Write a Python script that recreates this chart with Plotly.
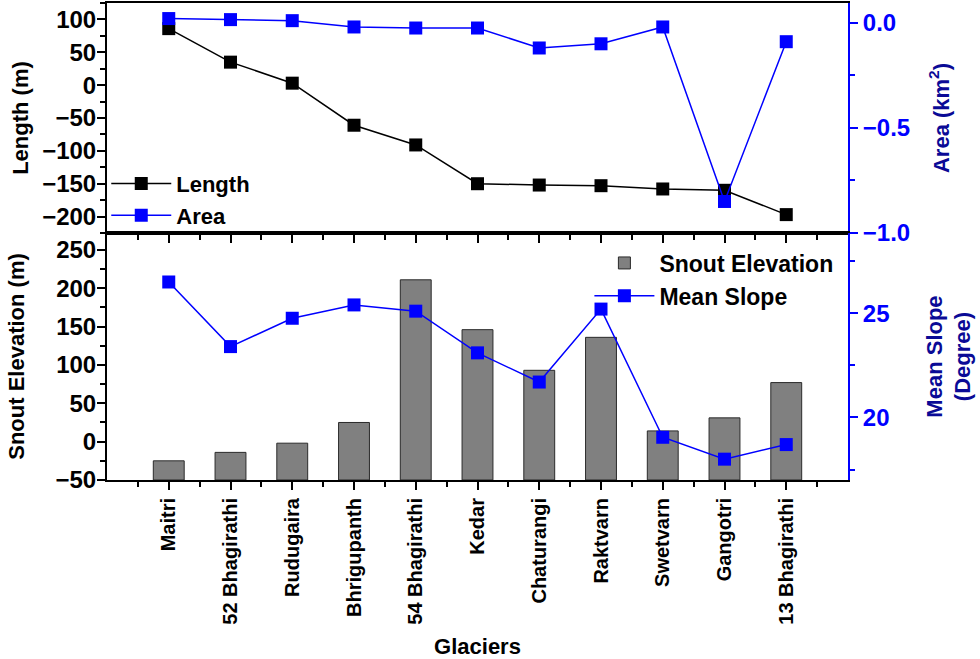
import plotly.graph_objects as go

glaciers = ["Maitri", "52 Bhagirathi", "Rudugaira", "Bhrigupanth", "54 Bhagirathi",
            "Kedar", "Chaturangi", "Raktvarn", "Swetvarn", "Gangotri", "13 Bhagirathi"]
length_m = [86, 35, 3, -61, -91, -150, -152, -153, -158, -160, -197]
area_km2 = [0.02, 0.015, 0.01, -0.02, -0.025, -0.025, -0.12, -0.10, -0.02, -0.85, -0.09]
snout_elev = [-25, -14, -2, 25, 211, 146, 93, 136, 14, 31, 77]
mean_slope = [26.5, 23.4, 24.76, 25.4, 25.1, 23.1, 21.7, 25.2, 19.05, 18.0, 18.7]

xpos = list(range(len(glaciers)))
BAR_BASE = -50

FONT = "Liberation Sans"
BLUE = "#0000FF"
NAVY = "#0a0a96"

fig = go.Figure()
fig.add_trace(go.Scatter(x=xpos, y=length_m, name="Length", mode="lines+markers",
                         line=dict(color="black", width=1.5),
                         marker=dict(symbol="square", size=13, color="black"),
                         xaxis="x", yaxis="y", legend="legend"))
fig.add_trace(go.Scatter(x=xpos, y=area_km2, name="Area", mode="lines+markers",
                         line=dict(color=BLUE, width=1.5),
                         marker=dict(symbol="square", size=13, color=BLUE),
                         xaxis="x", yaxis="y2", legend="legend"))
fig.add_trace(go.Bar(x=xpos, y=[v - BAR_BASE for v in snout_elev], base=BAR_BASE,
                     name="Snout Elevation", width=0.5,
                     marker=dict(color="#808080", line=dict(color="#2a2a2a", width=1)),
                     xaxis="x2", yaxis="y3", legend="legend2"))
fig.add_trace(go.Scatter(x=xpos, y=mean_slope, name="Mean Slope", mode="lines+markers",
                         line=dict(color=BLUE, width=1.5),
                         marker=dict(symbol="square", size=13, color=BLUE),
                         xaxis="x2", yaxis="y4", legend="legend2"))

split = 0.5178
tickfont = dict(family=FONT, size=24, color="black", weight="bold")
titlefont = dict(family=FONT, size=22, color="black", weight="bold")
minor_vals = [i + 0.5 for i in range(-1, len(glaciers))]
minor_x = dict(tickmode="array", tickvals=minor_vals,
               ticks="outside", ticklen=5, tickwidth=2, tickcolor="black")

common_x = dict(range=[-1, len(glaciers)], tickmode="array", tickvals=xpos,
                showline=True, linecolor="black", linewidth=2, showgrid=False, zeroline=False,
                tickwidth=2, tickcolor="black", automargin=False)

fig.update_layout(
    width=980, height=659,
    margin=dict(l=107, r=132, t=3, b=179),
    paper_bgcolor="white", plot_bgcolor="white",
    font=dict(family=FONT, weight="bold"),
    xaxis=dict(**common_x, domain=[0, 1], anchor="y", ticks="outside", ticklen=8,
               showticklabels=False, mirror=True, minor=minor_x),
    xaxis3=dict(range=[-1, len(glaciers)], tickmode="array", tickvals=xpos, overlaying="x",
                side="top", anchor="y", ticks="inside", ticklen=8, tickwidth=2, tickcolor="black",
                showticklabels=False, showgrid=False, zeroline=False, showline=False,
                automargin=False,
                minor=dict(tickmode="array", tickvals=minor_vals,
                           ticks="inside", ticklen=5, tickwidth=2, tickcolor="black")),
    xaxis2=dict(**common_x, domain=[0, 1], anchor="y3", ticks="outside", ticklen=8,
                ticktext=glaciers, tickangle=-90, mirror=True, minor=minor_x,
                tickfont=dict(family=FONT, size=20, color="black", weight="bold"),
                title=dict(text="Glaciers", font=titlefont, standoff=18)),
    yaxis=dict(domain=[split, 1], range=[-225, 125], dtick=50, tick0=0,
               ticks="outside", ticklen=8, tickwidth=2, tickcolor="black",
               showline=True, linecolor="black", linewidth=2, showgrid=False, zeroline=False,
               minor=dict(dtick=25, ticks="outside", ticklen=5, tickwidth=2, tickcolor="black"),
               tickfont=tickfont, ticklabelstandoff=-4,
               title=dict(text="Length (m)", font=titlefont, standoff=7),
               anchor="x", automargin=False),
    yaxis2=dict(domain=[split, 1], range=[-1.0, 0.094], dtick=0.5, tick0=0, tickformat=".1f",
                overlaying="y", side="right", anchor="x",
                ticks="outside", ticklen=8, tickwidth=2, tickcolor=BLUE,
                showline=True, linecolor=BLUE, linewidth=2, showgrid=False, zeroline=False,
                minor=dict(dtick=0.25, ticks="outside", ticklen=5, tickwidth=2, tickcolor=BLUE),
                tickfont=dict(family=FONT, size=24, color=BLUE, weight="bold"),
                automargin=False,
                title=dict(text="Area (km<sup>2</sup>)",
                           font=dict(family=FONT, size=22, color=NAVY, weight="bold"), standoff=24)),
    yaxis3=dict(domain=[0, split], range=[-50, 272], dtick=50, tick0=0,
                ticks="outside", ticklen=8, tickwidth=2, tickcolor="black",
                showline=True, linecolor="black", linewidth=2, showgrid=False, zeroline=False,
                minor=dict(dtick=25, ticks="outside", ticklen=5, tickwidth=2, tickcolor="black"),
                tickfont=tickfont, ticklabelstandoff=-4,
                title=dict(text="Snout Elevation (m)", font=titlefont, standoff=25),
                anchor="x2", automargin=False),
    yaxis4=dict(domain=[0, split], range=[17, 28.85], dtick=5, tick0=0,
                overlaying="y3", side="right", anchor="x2",
                ticks="outside", ticklen=8, tickwidth=2, tickcolor=BLUE,
                showline=True, linecolor=BLUE, linewidth=2, showgrid=False, zeroline=False,
                minor=dict(dtick=2.5, ticks="outside", ticklen=5, tickwidth=2, tickcolor=BLUE),
                tickfont=dict(family=FONT, size=24, color=BLUE, weight="bold"),
                automargin=False,
                title=dict(text="Mean Slope<br>(Degree)",
                           font=dict(family=FONT, size=22, color=NAVY, weight="bold"), standoff=38)),
    legend=dict(x=-0.001, y=0.665, xanchor="left", yanchor="top", bgcolor="rgba(0,0,0,0)",
                font=dict(family=FONT, size=22, color="black", weight="bold"),
                itemwidth=60, tracegroupgap=0),
    legend2=dict(x=0.651, y=0.50, xanchor="left", yanchor="top", bgcolor="rgba(0,0,0,0)",
                 font=dict(family=FONT, size=23, color="black", weight="bold"),
                 itemwidth=60, tracegroupgap=0),
)

fig.write_html("out.html", config={"displayModeBar": False},
               post_script="document.body.style.margin='0';")
